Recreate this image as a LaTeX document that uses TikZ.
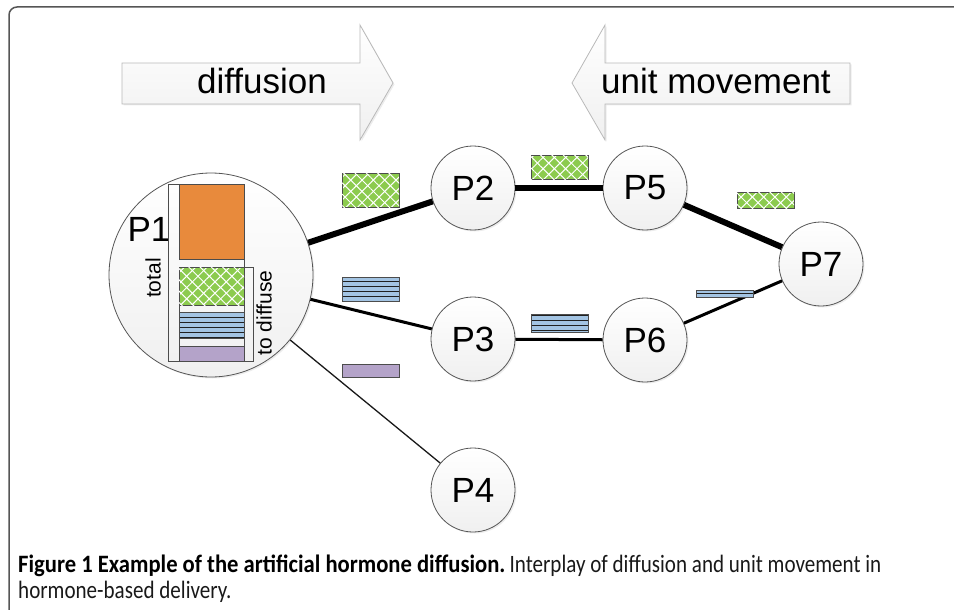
\documentclass[tikz,border=0pt]{standalone}
\usepackage{fontspec}
\setmainfont{Liberation Sans}
\newfontfamily\capfont{Carlito}
\usepackage{tikz}
\usetikzlibrary{arrows.meta,positioning,shadows,patterns.meta}
\definecolor{hgreen}{HTML}{8CCB4E}
\definecolor{hblue}{HTML}{A3C4E3}
\definecolor{hpurple}{HTML}{B4A3C9}
\definecolor{horange}{HTML}{E88A3C}
\definecolor{rim}{HTML}{555555}
\tikzset{
  pnode/.style={circle, draw=rim, line width=0.8pt, top color=white, bottom color=gray!12, minimum size=84pt, inner sep=0pt, font=\fontsize{35}{40}\selectfont, drop shadow={opacity=0.15, shadow xshift=1.5pt, shadow yshift=-1.5pt}},
  tok/.style={draw=gray!60!black, line width=0.8pt, inner sep=0pt, minimum width=57pt},
  gtok/.style={tok, preaction={fill=hgreen}, pattern={Lines[angle=45,distance=8pt,line width=1pt]}, pattern color=white,
    postaction={pattern={Lines[angle=-45,distance=8pt,line width=1pt]}, pattern color=white}},
  btok/.style={tok, fill=hblue, path picture={
    \foreach \dy in {#1}
      \draw[line width=1pt, gray!25!black] ([yshift=\dy pt]path picture bounding box.west) -- ([yshift=\dy pt]path picture bounding box.east);}},
  btok/.default={-12.5,-7.5,-2.5,2.5,7.5,12.5},
  bthin/.style={btok={0}},
  vtok/.style={tok, fill=hpurple},
  otok/.style={tok, fill=horange},
  bigarrow/.style={draw=gray!55, line width=0.8pt, top color=white, bottom color=gray!12, drop shadow={opacity=0.15, shadow xshift=1.5pt, shadow yshift=-1.5pt}},
  big/.style={font=\fontsize{35}{40}\selectfont, inner sep=0pt},
}

\begin{document}
\begin{tikzpicture}[x=1pt, y=-1pt,
  heavy/.style={line width=6pt},
  mid/.style={line width=3pt},
  light/.style={line width=1.3pt, draw=gray!20!black},
  box/.style={draw=gray!60!black, line width=0.9pt},
  capline/.style={anchor=base west, inner sep=0pt, font=\capfont\fontsize{25}{30}\selectfont}]
  \useasboundingbox (0,0) rectangle (954,610);
  % frame
  \draw[draw=rim, line width=1.5pt, rounded corners=8pt] (9,640) -- (9,7) -- (980,7);
  % direction arrows
  \draw[bigarrow] (122,63) -- (360,63) -- (360,25) -- (393,83) -- (360,140) -- (360,104) -- (122,104) -- cycle;
  \node[big, anchor=base] (difflab) at (262,94) {diffusion};
  \draw[bigarrow] (850,63) -- (605,63) -- (605,25) -- (572,83) -- (605,140) -- (605,104) -- (850,104) -- cycle;
  \node[big, anchor=base] (unitlab) at (716,94) {unit movement};
  % places
  \node[pnode, minimum size=204pt] (p1) at (211,275) {};
  \foreach \x/\y/\n in {473/188/2, 473/339/3, 473/490/4, 645/188/5, 645/340/6, 821/264/7}
    \node[pnode] (p\n) at (\x,\y) {P\n};
  % links
  \draw[heavy] (p1) -- (p2);
  \draw[heavy] (p2) -- (p5);
  \draw[heavy] (p5) -- (p7);
  \draw[mid] (p1) -- (p3);
  \draw[mid] (p3) -- (p6);
  \draw[mid] (p6) -- (p7);
  \draw[light] (p1) -- (p4);
  % hormone stock in P1
  \node[big, anchor=center] (p1lab) at (149,229) {P1};
  \draw[box] (168,184) rectangle (244,361);
  \draw[box] (179,267) rectangle (253,361);
  \node[otok, minimum width=65pt, minimum height=75pt] (orA) at (211.5,221.5) {};
  \node[gtok, minimum width=65pt, minimum height=38pt] (grA) at (211.5,286) {};
  \node[btok, minimum width=65pt, minimum height=26pt] (blA) at (211.5,325) {};
  \node[vtok, minimum width=65pt, minimum height=15pt] (puA) at (211.5,353.5) {};
  \node[rotate=90, font=\fontsize{21}{24}\selectfont, inner sep=0pt] (totlab) at (153,278) {total};
  \node[rotate=90, font=\fontsize{21}{24}\selectfont, inner sep=0pt] (difflab2) at (264,313) {to diffuse};
  % hormones on the way
  \foreach \s/\x/\y/\h/\n in {gtok/370.5/190/34/grB, btok/370.5/289/24/blB, vtok/370.5/370.5/13/puB,
      gtok/559.5/167/24/grC, btok/559.5/323/18/blC, gtok/765.5/200/16/grD, bthin/724.5/293.5/7/blD}
    \node[\s, minimum height=\h pt] (\n) at (\x,\y) {};
  % caption
  \node[capline] (cap1) at (18,572)
    {\scalebox{0.905}[1]{\bfseries Figure 1 Example of the artificial hormone diffusion.}\,\textcolor{gray!20!black}{\scalebox{0.843}[1]{Interplay of diffusion and unit movement in}}};
  \node[capline, text=gray!20!black] (cap2) at (18,598)
    {\scalebox{0.843}[1]{hormone-based delivery.}};
\end{tikzpicture}
\end{document}
